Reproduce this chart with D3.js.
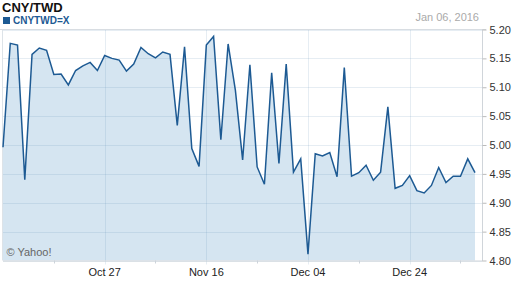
<!DOCTYPE html>
<html>
<head>
<meta charset="utf-8">
<script src="https://cdn.jsdelivr.net/npm/d3@7"></script>
<style>
  html, body { margin: 0; padding: 0; background: #fff; }
  svg { display: block; font-family: "Liberation Sans", Arial, sans-serif; }
</style>
</head>
<body>
<svg id="chart" width="512" height="288"></svg>
<script>
// ---- data (one value per trading day, Oct 07 2015 .. Jan 06 2016) ----
const values = [
  4.996, 5.176, 5.173, 4.940, 5.157, 5.168, 5.164, 5.122, 5.123, 5.104,
  5.129, 5.137, 5.143, 5.129, 5.155, 5.150, 5.147, 5.128, 5.140, 5.169,
  5.158, 5.151, 5.161, 5.157, 5.034, 5.170, 4.994, 4.963, 5.173, 5.188,
  5.009, 5.175, 5.095, 4.974, 5.139, 4.962, 4.932, 5.125, 4.968, 5.140,
  4.953, 4.976, 4.811, 4.985, 4.981, 4.987, 4.945, 5.134, 4.946, 4.952,
  4.965, 4.939, 4.953, 5.066, 4.925, 4.930, 4.947, 4.921, 4.917, 4.930,
  4.961, 4.935, 4.946, 4.946, 4.976, 4.952
];
const xTickIndex = [14, 28, 42, 56];
const xTickLabels = ["Oct 27", "Nov 16", "Dec 04", "Dec 24"];
const xMinorIndex = [7, 21, 35, 49, 63];
const yTicks = [4.80, 4.85, 4.90, 4.95, 5.00, 5.05, 5.10, 5.15, 5.20];
const title = "CNY/TWD";
const seriesName = "CNYTWD=X";
const dateLabel = "Jan 06, 2016";

// ---- layout ----
const svg = d3.select("#chart");
const pLeft = 3, pRight = 475, axisX = 482, pTop = 29.5, pBottom = 260.5;
const lineColor = "#1d5a93", fillColor = "#d5e5f1";

const x = d3.scaleLinear().domain([0, values.length - 1]).range([pLeft, pRight]);
const y = d3.scaleLinear().domain([4.80, 5.20]).range([pBottom, pTop]);

// header
svg.append("text").attr("x", 2).attr("y", 12).attr("font-size", 13).attr("font-weight", "bold")
  .attr("fill", "#111").text(title);
svg.append("rect").attr("x", 3).attr("y", 17).attr("width", 7).attr("height", 7).attr("fill", lineColor);
svg.append("text").attr("x", 13).attr("y", 24.3).attr("font-size", 10).attr("font-weight", "bold")
  .attr("fill", lineColor).text(seriesName);
svg.append("text").attr("x", 479).attr("y", 20.5).attr("font-size", 11).attr("text-anchor", "end")
  .attr("fill", "#aaa").text(dateLabel);

// area + line
const area = d3.area().x((d, i) => x(i)).y0(pBottom).y1(d => y(d));
const line = d3.line().x((d, i) => x(i)).y(d => y(d));
svg.append("path").datum(values).attr("d", area).attr("fill", fillColor);

// gridlines
const grid = svg.append("g");
grid.selectAll("line.h").data(yTicks).join("line")
  .attr("x1", pLeft).attr("x2", axisX)
  .attr("y1", d => Math.round(y(d)) + 0.5).attr("y2", d => Math.round(y(d)) + 0.5)
  .attr("stroke", "rgba(100,140,180,0.16)").attr("stroke-width", 1);
grid.selectAll("line.v").data(xTickIndex).join("line")
  .attr("x1", d => Math.round(x(d)) + 0.5).attr("x2", d => Math.round(x(d)) + 0.5)
  .attr("y1", pTop).attr("y2", pBottom + 4)
  .attr("stroke", "rgba(100,140,180,0.16)").attr("stroke-width", 1);

// frame
svg.append("line").attr("x1", 0).attr("x2", axisX + 4).attr("y1", 29.5).attr("y2", 29.5)
  .attr("stroke", "#d8dde2");
svg.append("line").attr("x1", 2.5).attr("x2", 2.5).attr("y1", pTop).attr("y2", pBottom)
  .attr("stroke", "#dde3e8");
svg.append("line").attr("x1", axisX + 0.5).attr("x2", axisX + 0.5).attr("y1", pTop).attr("y2", pBottom + 1)
  .attr("stroke", "#d0d5da");
svg.append("line").attr("x1", pLeft).attr("x2", axisX).attr("y1", pBottom + 0.5).attr("y2", pBottom + 0.5)
  .attr("stroke", "#d0d5da");

// y axis ticks & labels (right)
const yAxis = d3.axisRight(y).tickValues(yTicks).tickSize(4).tickPadding(3).tickFormat(d3.format(".2f"));
const ya = svg.append("g").attr("transform", `translate(${axisX + 0.5},0)`).call(yAxis);
ya.select(".domain").remove();
ya.selectAll("line").attr("stroke", "#bbb");
ya.selectAll("text").attr("font-size", 11).attr("fill", "#333").attr("font-family", "Liberation Sans, Arial, sans-serif");

// x axis minor ticks and labels
svg.append("g").selectAll("line").data(xMinorIndex).join("line")
  .attr("x1", d => Math.round(x(d)) + 0.5).attr("x2", d => Math.round(x(d)) + 0.5)
  .attr("y1", pBottom).attr("y2", pBottom + 3).attr("stroke", "#ccd3da");
svg.append("g").selectAll("text").data(xTickIndex).join("text")
  .attr("x", d => x(d)).attr("y", 276).attr("text-anchor", "middle")
  .attr("font-size", 11).attr("fill", "#222").text((d, i) => xTickLabels[i]);

// line
svg.append("path").datum(values).attr("d", line).attr("fill", "none")
  .attr("stroke", lineColor).attr("stroke-width", 1.5).attr("stroke-linejoin", "miter");

// watermark
svg.append("text").attr("x", 6.5).attr("y", 255.5).attr("font-size", 11).attr("fill", "#666").text("© Yahoo!");
</script>
</body>
</html>
